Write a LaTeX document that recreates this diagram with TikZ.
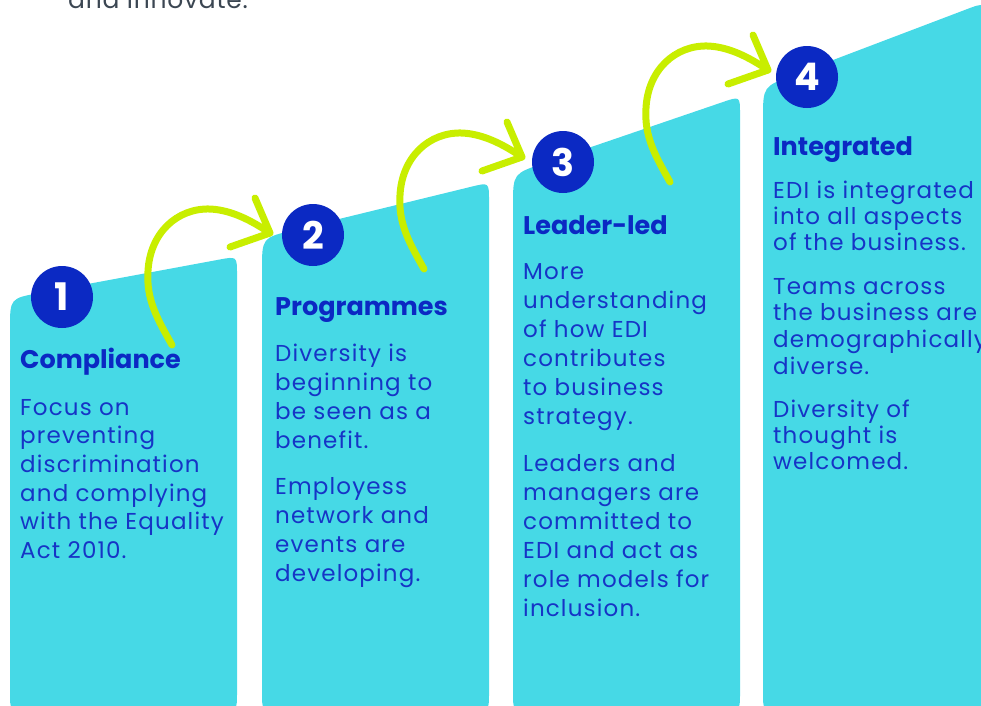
\documentclass[tikz,border=0pt]{standalone}
\usepackage{fontspec}
\setmainfont{Poppins}
\newfontfamily\bodyfont[LetterSpace=5]{Poppins}
\newfontfamily\introfont[LetterSpace=3]{Poppins}
\usetikzlibrary{calc}
\definecolor{colfill}{HTML}{46D9E6}
\definecolor{navy}{HTML}{0B29C3}
\definecolor{txtblue}{HTML}{1634C6}
\definecolor{lime}{HTML}{C8EE00}
\definecolor{greytxt}{HTML}{3B4652}
\newcommand\drawcolumn[6]{% x1 x2 yL yR rL rR
  \fill[colshape] (#1,692) -- (#1,#3+#5) .. controls (#1,#3) .. ($(#1,#3)!#5pt!(#2,#4)$)
    -- ($(#2,#4)!#6pt!(#1,#3)$) .. controls (#2,#4) .. (#2,#4+#6)
    -- (#2,692) .. controls (#2,712) .. (#2-20,712) -- (#1+20,712)
    .. controls (#1,712) .. (#1,692) -- cycle;}
\newcommand\drawswoosh[3]{% name, x, y of start
  \begin{scope}[shift={(#2,#3)}]
    \coordinate (#1s) at (0,0);
    \coordinate (#1t) at (98,-112);
    \coordinate (#1h1) at (83,-147);
    \coordinate (#1h2) at (58,-98);
    \draw[swoosh] (#1s) .. controls (-14,-25) and (-26,-45) .. (-24,-74)
      .. controls (-22,-112) and (5,-137) .. (38,-136)
      .. controls (60,-135) and (80,-124) .. (#1t);
    \draw[swoosh] (#1h1) -- (#1t) -- (#1h2);
  \end{scope}}
\begin{document}
\begin{tikzpicture}[x=1pt,y=-1pt,
  colshape/.style={fill=colfill},
  numcirc/.style={circle,fill=navy,minimum size=62pt,inner sep=0pt,text=white,font=\fontsize{38}{38}\selectfont\bfseries},
  heading/.style={anchor=base west,inner sep=0pt,text=navy,font=\fontsize{25.5}{30}\selectfont\bfseries},
  body/.style={anchor=base west,inner sep=0pt,text=txtblue,font=\bodyfont\fontsize{23}{29}\selectfont},
  swoosh/.style={draw=lime,line width=7pt,line cap=round,line join=round}]
\useasboundingbox (0,0) rectangle (981,705);

\node[anchor=base west,inner sep=0pt,text=greytxt,font=\introfont\fontsize{25}{25}\selectfont] (intro) at (68,8) {and innovate.};

\drawcolumn{10}{237}{298.4}{256.3}{30}{18}
\drawcolumn{262}{489}{237.8}{182.4}{32}{18}
\drawcolumn{513}{740}{173.7}{96.2}{32}{18}
\drawcolumn{763}{985}{86.6}{2.3}{32}{20}

\drawswoosh{a1}{172}{345}
\drawswoosh{a2}{424}{269}
\drawswoosh{a3}{670}{182}

\node[numcirc] (n1) at (62,297) {1};
\node[numcirc] (n2) at (313,235) {2};
\node[numcirc] (n3) at (563,162) {3};
\node[numcirc] (n4) at (807,77) {4};

% column 1
\node[heading] (h1) at (20,368) {Compliance};
\foreach \t [count=\i] in {Focus on,preventing,discrimination,and complying,with the Equality,Act 2010.}
  \node[body] (c1a\i) at (20,415+28.7*\i-28.7) {\t};

% column 2
\node[heading] (h2) at (275,315) {Programmes};
\foreach \t [count=\i] in {Diversity is,beginning to,be seen as a,benefit.}
  \node[body] (c2a\i) at (275,361+29*\i-29) {\t};
\foreach \t [count=\i] in {Employess,network and,events are,developing.}
  \node[body] (c2b\i) at (275,494+29*\i-29) {\t};

% column 3
\node[heading] (h3) at (523,234) {Leader-led};
\foreach \t [count=\i] in {More,understanding,of how EDI,contributes,to business,strategy.}
  \node[body] (c3a\i) at (523,279+29*\i-29) {\t};
\foreach \t [count=\i] in {Leaders and,managers are,committed to,EDI and act as,role models for,inclusion.}
  \node[body] (c3b\i) at (523,471+29*\i-29) {\t};

% column 4
\node[heading] (h4) at (773,155) {Integrated};
\foreach \t [count=\i] in {EDI is integrated,into all aspects,of the business.}
  \node[body] (c4a\i) at (773,198+26.3*\i-26.3) {\t};
\foreach \t [count=\i] in {Teams across,the business are,demographically,diverse.}
  \node[body] (c4b\i) at (773,294+26.7*\i-26.7) {\t};
\foreach \t [count=\i] in {Diversity of,thought is,welcomed.}
  \node[body] (c4c\i) at (773,417+26.3*\i-26.3) {\t};
\end{tikzpicture}
\end{document}
